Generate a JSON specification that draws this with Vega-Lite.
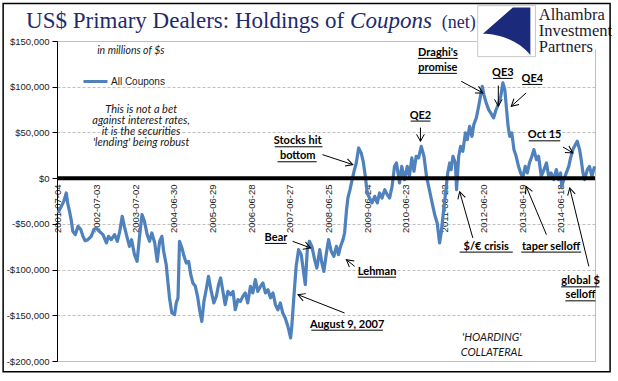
{
  "$schema": "https://vega.github.io/schema/vega-lite/v6.json",
  "width": 538,
  "height": 320,
  "autosize": {"type": "none"},
  "padding": {"left": 57, "top": 41, "right": 23, "bottom": 20},
  "background": "white",
  "config": {
    "view": {"stroke": "#BFBFBF", "strokeWidth": 1},
    "font": "Liberation Sans"
  },
  "datasets": {
    "series": [
      {"date":"2001-07-04","value":-38100},{"date":"2001-08-05","value":-30800},{"date":"2001-08-28","value":-25400},{"date":"2001-09-20","value":-16200},
      {"date":"2001-10-06","value":-29000},{"date":"2001-10-21","value":-36300},{"date":"2001-11-08","value":-47300},{"date":"2001-11-21","value":-58200},
      {"date":"2001-12-14","value":-61800},{"date":"2002-01-09","value":-52700},{"date":"2002-02-04","value":-56300},{"date":"2002-02-24","value":-63600},
      {"date":"2002-03-17","value":-68400},{"date":"2002-04-11","value":-67300},{"date":"2002-05-13","value":-63600},{"date":"2002-06-07","value":-56300},
      {"date":"2002-06-28","value":-54500},{"date":"2002-07-29","value":-58200},{"date":"2002-09-01","value":-61800},{"date":"2002-10-03","value":-70900},
      {"date":"2002-10-23","value":-63600},{"date":"2002-11-18","value":-67300},{"date":"2002-12-19","value":-61800},{"date":"2003-01-14","value":-69100},
      {"date":"2003-02-06","value":-58200},{"date":"2003-03-01","value":-41800},{"date":"2003-03-21","value":-52700},{"date":"2003-04-17","value":-65400},
      {"date":"2003-05-08","value":-74600},{"date":"2003-05-28","value":-67300},{"date":"2003-06-24","value":-83700},{"date":"2003-07-19","value":-91000},
      {"date":"2003-08-11","value":-63600},{"date":"2003-09-03","value":-39900},{"date":"2003-09-26","value":-47300},{"date":"2003-10-22","value":-61800},
      {"date":"2003-11-13","value":-69100},{"date":"2003-12-05","value":-60000},{"date":"2004-01-01","value":-70900},{"date":"2004-01-24","value":-91000},
      {"date":"2004-02-16","value":-69100},{"date":"2004-03-08","value":-63600},{"date":"2004-03-25","value":-80000},{"date":"2004-04-18","value":-94600},
      {"date":"2004-04-27","value":-105600},{"date":"2004-05-19","value":-131000},{"date":"2004-06-10","value":-147500},{"date":"2004-07-06","value":-149300},
      {"date":"2004-07-21","value":-136500},{"date":"2004-08-07","value":-131000},{"date":"2004-08-21","value":-69100},{"date":"2004-09-13","value":-76400},
      {"date":"2004-10-03","value":-85500},{"date":"2004-10-24","value":-92800},{"date":"2004-11-15","value":-91000},{"date":"2004-12-05","value":-105600},
      {"date":"2004-12-25","value":-114700},{"date":"2005-01-17","value":-118300},{"date":"2005-02-07","value":-129300},{"date":"2005-02-26","value":-143900},
      {"date":"2005-03-19","value":-156700},{"date":"2005-04-08","value":-134800},{"date":"2005-04-29","value":-122000},{"date":"2005-05-21","value":-107400},
      {"date":"2005-06-16","value":-123900},{"date":"2005-07-10","value":-136500},{"date":"2005-08-03","value":-129300},{"date":"2005-08-24","value":-116500},
      {"date":"2005-09-12","value":-109200},{"date":"2005-10-04","value":-123900},{"date":"2005-10-25","value":-138400},{"date":"2005-11-20","value":-123900},
      {"date":"2005-12-15","value":-127500},{"date":"2006-01-07","value":-123900},{"date":"2006-01-28","value":-143900},{"date":"2006-02-22","value":-132900},
      {"date":"2006-03-18","value":-134800},{"date":"2006-04-09","value":-129300},{"date":"2006-05-02","value":-125600},{"date":"2006-05-25","value":-136500},
      {"date":"2006-06-20","value":-118300},{"date":"2006-07-12","value":-125600},{"date":"2006-08-05","value":-111000},{"date":"2006-08-28","value":-123900},
      {"date":"2006-09-23","value":-118300},{"date":"2006-10-15","value":-114700},{"date":"2006-11-08","value":-125600},{"date":"2006-12-02","value":-122000},
      {"date":"2006-12-26","value":-131000},{"date":"2007-01-18","value":-125600},{"date":"2007-02-10","value":-138400},{"date":"2007-03-05","value":-143900},
      {"date":"2007-03-28","value":-136500},{"date":"2007-04-20","value":-147500},{"date":"2007-05-13","value":-153000},{"date":"2007-06-07","value":-162000},
      {"date":"2007-07-03","value":-174800},{"date":"2007-07-14","value":-162100},{"date":"2007-08-03","value":-129300},{"date":"2007-08-24","value":-96500},
      {"date":"2007-09-16","value":-78200},{"date":"2007-10-11","value":-83700},{"date":"2007-11-03","value":-103700},{"date":"2007-11-18","value":-116500},
      {"date":"2007-12-07","value":-78200},{"date":"2007-12-27","value":-69100},{"date":"2008-01-19","value":-74600},{"date":"2008-02-14","value":-89200},
      {"date":"2008-03-06","value":-98300},{"date":"2008-04-02","value":-78200},{"date":"2008-04-22","value":-92800},{"date":"2008-05-11","value":-102000},
      {"date":"2008-06-04","value":-81800},{"date":"2008-06-24","value":-67300},{"date":"2008-07-19","value":-80000},{"date":"2008-08-13","value":-85500},
      {"date":"2008-09-06","value":-74600},{"date":"2008-09-26","value":-83700},{"date":"2008-10-15","value":-74600},{"date":"2008-11-07","value":-67300},
      {"date":"2008-11-22","value":-60000},{"date":"2008-12-09","value":-36300},{"date":"2008-12-23","value":-21700},{"date":"2009-01-12","value":-12600},
      {"date":"2009-02-01","value":-1600},{"date":"2009-02-19","value":7500},{"date":"2009-03-12","value":16600},{"date":"2009-04-03","value":33000},
      {"date":"2009-04-27","value":27600},{"date":"2009-05-16","value":18400},{"date":"2009-06-05","value":2000},{"date":"2009-06-23","value":-16200},
      {"date":"2009-07-15","value":-21700},{"date":"2009-08-07","value":-27100},{"date":"2009-09-02","value":-19900},{"date":"2009-09-26","value":-27100},
      {"date":"2009-10-17","value":-16200},{"date":"2009-11-09","value":-21700},{"date":"2009-12-05","value":-12600},{"date":"2009-12-28","value":-18000},
      {"date":"2010-01-20","value":-21700},{"date":"2010-02-12","value":-9000},{"date":"2010-03-07","value":12900},{"date":"2010-03-25","value":16600},
      {"date":"2010-04-14","value":2000},{"date":"2010-04-23","value":-5300},{"date":"2010-05-14","value":12900},{"date":"2010-06-09","value":-1600},
      {"date":"2010-07-05","value":12900},{"date":"2010-07-25","value":2000},{"date":"2010-08-17","value":22100},{"date":"2010-09-06","value":7500},
      {"date":"2010-09-27","value":23900},{"date":"2010-10-19","value":22100},{"date":"2010-11-14","value":34800},{"date":"2010-12-09","value":23900},
      {"date":"2011-01-02","value":2000},{"date":"2011-01-22","value":-9000},{"date":"2011-02-11","value":-19900},{"date":"2011-03-03","value":-30800},
      {"date":"2011-03-24","value":-41800},{"date":"2011-04-13","value":-49000},{"date":"2011-05-05","value":-70900},{"date":"2011-05-20","value":-60000},
      {"date":"2011-06-06","value":-41800},{"date":"2011-06-20","value":-27100},{"date":"2011-07-07","value":-9000},{"date":"2011-07-21","value":5700},
      {"date":"2011-08-08","value":16600},{"date":"2011-08-22","value":9300},{"date":"2011-09-08","value":23900},{"date":"2011-10-01","value":16600},
      {"date":"2011-10-12","value":-12600},{"date":"2011-11-01","value":23900},{"date":"2011-11-19","value":34800},{"date":"2011-12-10","value":29300},
      {"date":"2012-01-03","value":49500},{"date":"2012-01-21","value":42100},{"date":"2012-02-12","value":56700},{"date":"2012-03-05","value":45700},
      {"date":"2012-03-22","value":58500},{"date":"2012-04-15","value":65900},{"date":"2012-05-07","value":78600},{"date":"2012-05-24","value":89500},
      {"date":"2012-06-10","value":100400},{"date":"2012-06-25","value":91400},{"date":"2012-07-17","value":82300},{"date":"2012-08-09","value":74900},
      {"date":"2012-09-04","value":70000},{"date":"2012-09-25","value":66000},{"date":"2012-10-15","value":74000},{"date":"2012-11-05","value":80000},
      {"date":"2012-12-01","value":89500},{"date":"2012-12-21","value":104200},{"date":"2013-01-08","value":96800},{"date":"2013-01-22","value":78600},
      {"date":"2013-02-08","value":56700},{"date":"2013-02-23","value":45700},{"date":"2013-03-15","value":49500},{"date":"2013-04-04","value":31200},
      {"date":"2013-04-25","value":23900},{"date":"2013-05-17","value":12900},{"date":"2013-06-06","value":5700},{"date":"2013-06-26","value":200},
      {"date":"2013-07-19","value":12900},{"date":"2013-08-08","value":5700},{"date":"2013-08-28","value":16600},{"date":"2013-09-20","value":23900},
      {"date":"2013-10-09","value":31200},{"date":"2013-11-02","value":20200},{"date":"2013-11-22","value":23900},{"date":"2013-12-17","value":2000},
      {"date":"2014-01-12","value":9300},{"date":"2014-02-04","value":16600},{"date":"2014-02-25","value":2000},{"date":"2014-03-20","value":5700},
      {"date":"2014-04-15","value":-1600},{"date":"2014-05-08","value":9300},{"date":"2014-05-28","value":-1600},{"date":"2014-06-17","value":5700},
      {"date":"2014-06-28","value":-9000},{"date":"2014-07-17","value":-1600},{"date":"2014-08-10","value":5700},{"date":"2014-09-02","value":12900},
      {"date":"2014-09-19","value":22100},{"date":"2014-10-11","value":31200},{"date":"2014-11-04","value":36700},{"date":"2014-11-21","value":40300},
      {"date":"2014-12-13","value":31200},{"date":"2014-12-28","value":20200},{"date":"2015-01-14","value":5700},{"date":"2015-01-29","value":-1600},
      {"date":"2015-02-24","value":9300},{"date":"2015-03-16","value":12900},{"date":"2015-04-08","value":2000},{"date":"2015-05-03","value":12900}
    ],
    "zero": [{"date":"2001-06-25","date2":"2015-05-07","value":0}],
    "labels": [
      {"date":"2007-09-08","value":40300,"text":"Stocks hit"},
      {"date":"2007-09-08","value":23900,"text":"bottom"},
      {"date":"2010-11-06","value":68400,"text":"QE2"},
      {"date":"2011-04-19","value":137000,"text":"Draghi's"},
      {"date":"2011-04-19","value":120600,"text":"promise"},
      {"date":"2012-12-21","value":115100,"text":"QE3"},
      {"date":"2013-09-24","value":108500,"text":"QE4"},
      {"date":"2014-01-18","value":46800,"text":"Oct 15"},
      {"date":"2007-02-15","value":-65400,"text":"Bear"},
      {"date":"2009-09-24","value":-102300,"text":"Lehman"},
      {"date":"2008-12-16","value":-160300,"text":"August 9, 2007"},
      {"date":"2012-07-17","value":-74900,"text":"$/€ crisis"},
      {"date":"2014-03-20","value":-74900,"text":"taper selloff"},
      {"date":"2014-12-22","value":-112900,"text":"global $"},
      {"date":"2014-12-22","value":-128200,"text":"selloff"}
    ],
    "underlines": [
      {"date":"2007-02-04","date2":"2008-04-28","value":34300},
      {"date":"2007-03-02","date2":"2008-03-04","value":17900},
      {"date":"2010-08-06","date2":"2011-02-08","value":62400},
      {"date":"2010-10-13","date2":"2011-10-23","value":131000},
      {"date":"2010-10-13","date2":"2011-10-15","value":114600},
      {"date":"2012-09-19","date2":"2013-03-24","value":109100},
      {"date":"2013-06-21","date2":"2013-12-26","value":102500},
      {"date":"2013-08-22","date2":"2014-06-14","value":40800},
      {"date":"2006-11-02","date2":"2007-05-27","value":-71400},
      {"date":"2009-03-26","date2":"2010-03-22","value":-108300},
      {"date":"2008-01-14","date2":"2009-11-18","value":-166300},
      {"date":"2011-11-10","date2":"2013-03-24","value":-80900},
      {"date":"2013-06-12","date2":"2014-12-28","value":-80900},
      {"date":"2014-06-22","date2":"2015-06-18","value":-118900},
      {"date":"2014-08-01","date2":"2015-05-12","value":-134200}
    ],
    "notes": [
      {"date":"2003-08-26","value":74900,"text":"This is not a bet"},
      {"date":"2003-08-26","value":62100,"text":"against interest rates,"},
      {"date":"2003-08-26","value":50100,"text":"it is the securities"},
      {"date":"2003-08-26","value":38500,"text":"'lending' being robust"},
      {"date":"2012-09-07","value":-174800,"text":"'HOARDING'"},
      {"date":"2012-09-07","value":-191200,"text":"COLLATERAL"}
    ],
    "units": [{"date":"2003-05-21","value":138600,"text":"in millions of $s"}],
    "arrows": [
      {"date":"2008-04-28","value":25700,"date2":"2009-02-08","value2":14800,"angle":18},
      {"date":"2010-11-06","value":55300,"date2":"2010-11-06","value2":40300,"angle":90},
      {"date":"2011-11-25","value":105900,"date2":"2012-06-16","value2":93200,"angle":28},
      {"date":"2012-11-08","value":101200,"date2":"2012-11-08","value2":78600,"angle":90},
      {"date":"2013-07-28","value":93200,"date2":"2013-03-10","value2":78600,"angle":138},
      {"date":"2014-07-09","value":34100,"date2":"2014-10-11","value2":27600,"angle":31},
      {"date":"2007-07-22","value":-69100,"date2":"2008-01-08","value2":-76400,"angle":20},
      {"date":"2009-02-25","value":-96500,"date2":"2008-12-09","value2":-89200,"angle":219},
      {"date":"2008-11-22","value":-147500,"date2":"2007-09-10","value2":-127500,"angle":201},
      {"date":"2012-03-13","value":-65400,"date2":"2011-11-10","value2":-14800,"angle":254},
      {"date":"2014-02-04","value":-61800,"date2":"2013-07-28","value2":-9000,"angle":247},
      {"date":"2015-03-10","value":-96500,"date2":"2014-09-11","value2":-10700,"angle":256}
    ],
    "logoBg": [{"date":"2012-04-19","date2":"2015-08-15","value":189800,"value2":141100}],
    "logoBox": [{"date":"2012-04-28","date2":"2013-10-24","value":188700,"value2":132900}],
    "logoMark": [{"date":"2013-01-25","value":160800}],
    "logoText": [
      {"date":"2013-11-24","value":173400,"text":"Alhambra"},
      {"date":"2013-11-24","value":155900,"text":"Investment"},
      {"date":"2013-11-24","value":138400,"text":"Partners"}
    ],
    "title1": [{"date":"2000-09-07","value":164700,"text":"US$ Primary Dealers: Holdings of"}],
    "title2": [{"date":"2009-01-13","value":164700,"text":"Coupons"}],
    "title3": [{"date":"2011-05-26","value":164700,"text":"(net)"}],
    "frame": [{"date":"2000-02-04","date2":"2015-09-26","value":190900,"value2":-211700}]
  },
  "encoding": {
    "x": {
      "field": "date", "type": "temporal",
      "scale": {"domain": [{"year":2001,"month":6,"date":25,"utc":true},{"year":2015,"month":5,"date":7,"utc":true}]},
      "axis": {
        "values": [
          {"year":2001,"month":7,"date":4,"utc":true},{"year":2002,"month":7,"date":3,"utc":true},
          {"year":2003,"month":7,"date":2,"utc":true},{"year":2004,"month":6,"date":30,"utc":true},
          {"year":2005,"month":6,"date":29,"utc":true},{"year":2006,"month":6,"date":28,"utc":true},
          {"year":2007,"month":6,"date":27,"utc":true},{"year":2008,"month":6,"date":25,"utc":true},
          {"year":2009,"month":6,"date":24,"utc":true},{"year":2010,"month":6,"date":23,"utc":true},
          {"year":2011,"month":6,"date":22,"utc":true},{"year":2012,"month":6,"date":20,"utc":true},
          {"year":2013,"month":6,"date":19,"utc":true},{"year":2014,"month":6,"date":18,"utc":true}
        ],
        "labelExpr": "utcFormat(datum.value, '%Y-%m-%d')",
        "labelAngle": -90, "labelAlign": "right", "labelBaseline": "middle",
        "ticks": false, "tickSize": 0, "domain": false, "grid": false,
        "offset": -182, "labelPadding": 5, "labelOverlap": false,
        "labelFont": "Liberation Sans", "labelFontSize": 9.5, "labelColor": "#222222",
        "title": null
      }
    },
    "y": {
      "field": "value", "type": "quantitative",
      "scale": {"domain": [-200000, 150000], "nice": false, "zero": false},
      "axis": {
        "values": [-200000,-150000,-100000,-50000,0,50000,100000,150000],
        "labelExpr": "(datum.value < 0 ? '-' : '') + '$' + format(abs(datum.value), ',')",
        "domainColor": "#000000", "tickColor": "#000000", "tickSize": 5,
        "labelPadding": 3, "labelFont": "Liberation Sans", "labelFontSize": 9.5, "labelColor": "#222222",
        "gridColor": "#BFBFBF",
        "gridDash": {"condition": {"test": "datum.value == 150000 || datum.value == -200000", "value": []}, "value": [3, 2]},
        "title": null
      }
    }
  },
  "layer": [
    {
      "data": {"name": "series"},
      "mark": {"type": "line", "strokeWidth": 3.2, "strokeJoin": "round"},
      "encoding": {
        "color": {
          "datum": "All Coupons",
          "scale": {"range": ["#4F81BD"]},
          "legend": {
            "orient": "none", "legendX": 25, "legendY": 27, "title": null,
            "symbolType": "stroke", "symbolSize": 576, "symbolStrokeWidth": 3,
            "labelFont": "Liberation Sans", "labelFontSize": 10, "labelColor": "#222222",
            "labelOffset": 2, "padding": 0
          }
        }
      }
    },
    {
      "data": {"name": "zero"},
      "mark": {"type": "rule", "strokeWidth": 4, "color": "#000000"},
      "encoding": {"x2": {"field": "date2"}}
    },
    {
      "data": {"name": "arrows"},
      "mark": {"type": "rule", "strokeWidth": 1, "color": "#000000"},
      "encoding": {"x2": {"field": "date2"}, "y2": {"field": "value2"}}
    },
    {
      "data": {"name": "arrows"},
      "mark": {"type": "point", "shape": "M-1,-0.55L0,0L-1,0.55", "filled": false, "stroke": "#000000", "strokeWidth": 1, "size": 196, "opacity": 1},
      "encoding": {
        "x": {"field": "date2", "type": "temporal"},
        "y": {"field": "value2", "type": "quantitative"},
        "angle": {"field": "angle", "type": "quantitative", "scale": null}
      }
    },
    {
      "data": {"name": "underlines"},
      "mark": {"type": "rule", "strokeWidth": 1, "color": "#000000"},
      "encoding": {"x2": {"field": "date2"}}
    },
    {
      "data": {"name": "labels"},
      "mark": {"type": "text", "font": "Lato", "fontWeight": "bold", "fontSize": 11, "align": "center", "baseline": "middle", "color": "#000000"},
      "encoding": {"text": {"field": "text"}}
    },
    {
      "data": {"name": "notes"},
      "mark": {"type": "text", "font": "Lato", "fontStyle": "italic", "fontSize": 11, "align": "center", "baseline": "middle", "color": "#1A1A1A"},
      "encoding": {"text": {"field": "text"}}
    },
    {
      "data": {"name": "units"},
      "mark": {"type": "text", "font": "Lato", "fontStyle": "italic", "fontSize": 10.5, "align": "center", "baseline": "middle", "color": "#1A1A1A"},
      "encoding": {"text": {"field": "text"}}
    },
    {
      "data": {"name": "logoBg"},
      "mark": {"type": "rect", "color": "#FFFFFF"},
      "encoding": {"x2": {"field": "date2"}, "y2": {"field": "value2"}}
    },
    {
      "data": {"name": "logoBox"},
      "mark": {"type": "rect", "fill": "#FFFFFF", "stroke": "#C8C8C8", "strokeWidth": 1},
      "encoding": {"x2": {"field": "date2"}, "y2": {"field": "value2"}}
    },
    {
      "data": {"name": "logoMark"},
      "mark": {"type": "point", "shape": "M0.95,-0.95L0.25,-0.95L-0.95,0.1C-0.35,0.1 0.45,0.35 0.95,0.95Z", "filled": true, "color": "#1B2A7A", "size": 2500, "opacity": 1}
    },
    {
      "data": {"name": "logoText"},
      "mark": {"type": "text", "font": "Liberation Serif", "fontSize": 16.5, "align": "left", "baseline": "alphabetic", "color": "#1A1A33"},
      "encoding": {"text": {"field": "text"}}
    },
    {
      "data": {"name": "title1"},
      "mark": {"type": "text", "font": "Liberation Serif", "fontSize": 23, "align": "left", "baseline": "alphabetic", "color": "#1F2A6E"},
      "encoding": {"text": {"field": "text"}}
    },
    {
      "data": {"name": "title2"},
      "mark": {"type": "text", "font": "Liberation Serif", "fontStyle": "italic", "fontSize": 23, "align": "left", "baseline": "alphabetic", "color": "#1F2A6E"},
      "encoding": {"text": {"field": "text"}}
    },
    {
      "data": {"name": "title3"},
      "mark": {"type": "text", "font": "Liberation Serif", "fontSize": 18, "align": "left", "baseline": "alphabetic", "color": "#1F2A6E"},
      "encoding": {"text": {"field": "text"}}
    },
    {
      "data": {"name": "frame"},
      "mark": {"type": "rect", "filled": false, "stroke": "#000000", "strokeWidth": 1.5},
      "encoding": {"x2": {"field": "date2"}, "y2": {"field": "value2"}}
    }
  ]
}
